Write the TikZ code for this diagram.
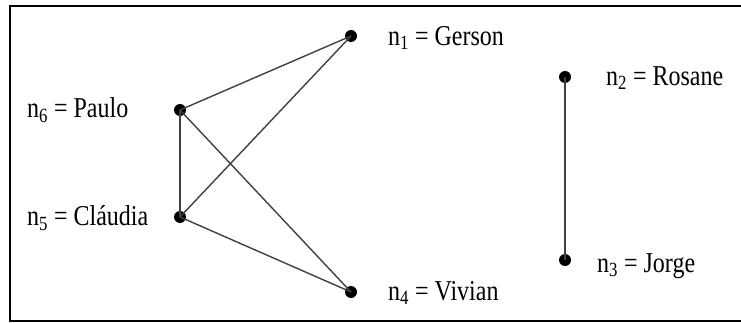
\documentclass[tikz,border=0pt]{standalone}
\usepackage{fontspec}
\setmainfont{Liberation Serif}
\newcommand{\tallbox}[1]{\scalebox{0.96}[1.15]{#1}}
\begin{document}
\begin{tikzpicture}[x=1pt,y=-1pt,
  vert/.style={circle,fill=black,inner sep=0pt,minimum size=12pt},
  edge/.style={draw=black!75,line width=1.4pt},
  lab/.style={anchor=west,inner sep=0pt,font=\fontsize{25}{27}\selectfont}]
\useasboundingbox (0,0) rectangle (741,323);
\draw[line width=2.2pt] (741,6) -- (10,6) -- (10,321) -- (741,321);
\node[vert] (n1) at (351,36) {};
\node[vert] (n2) at (565,77) {};
\node[vert] (n3) at (565,260) {};
\node[vert] (n4) at (351,292) {};
\node[vert] (n5) at (180,217) {};
\node[vert] (n6) at (180,110) {};
\draw[edge] (n6.center) -- (n1.center);
\draw[edge] (n6.center) -- (n5.center);
\draw[edge] (n6.center) -- (n4.center);
\draw[edge] (n5.center) -- (n1.center);
\draw[edge] (n5.center) -- (n4.center);
\draw[edge] (n2.center) -- (n3.center);
\node[lab] (l1) at (388,38) {\tallbox{n\textsubscript{1} = Gerson}};
\node[lab] (l2) at (606,78) {\tallbox{n\textsubscript{2} = Rosane}};
\node[lab] (l3) at (597,266) {\tallbox{n\textsubscript{3} = Jorge}};
\node[lab] (l4) at (388,293) {\tallbox{n\textsubscript{4} = Vivian}};
\node[lab] (l5) at (27,218) {\tallbox{n\textsubscript{5} = Cláudia}};
\node[lab] (l6) at (27,110) {\tallbox{n\textsubscript{6} = Paulo}};
\end{tikzpicture}
\end{document}
